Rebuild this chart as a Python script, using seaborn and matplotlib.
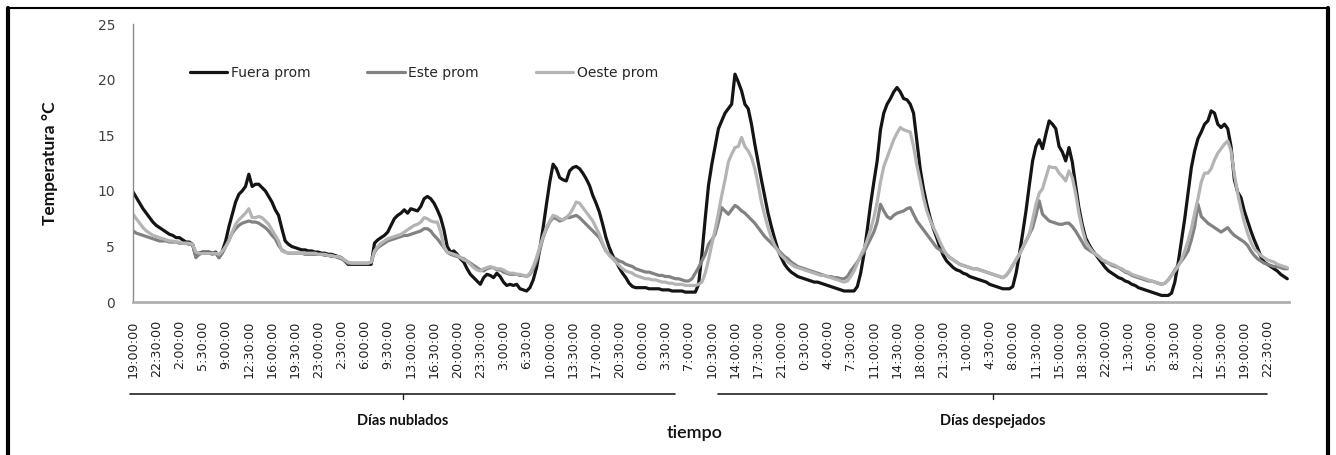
import matplotlib
matplotlib.use("Agg")
import matplotlib.pyplot as plt
import pandas as pd
import seaborn as sns
from matplotlib.lines import Line2D

# Half-hourly averaged temperatures (°C), starting 19:00
fuera = [
    9.9, 9.4, 8.9, 8.4, 8.0, 7.6, 7.2, 6.9, 6.7, 6.5,
    6.3, 6.1, 6.0, 5.8, 5.8, 5.6, 5.4, 5.4, 5.2, 4.1,
    4.4, 4.5, 4.5, 4.5, 4.4, 4.5, 4.0, 4.6, 5.5, 6.8,
    7.9, 9.0, 9.7, 10.0, 10.4, 11.5, 10.4, 10.6, 10.6, 10.3,
    10.0, 9.5, 9.0, 8.3, 7.8, 6.6, 5.5, 5.2, 5.0, 4.9,
    4.8, 4.7, 4.7, 4.6, 4.6, 4.5, 4.5, 4.4, 4.4, 4.3,
    4.3, 4.2, 4.1, 4.0, 3.7, 3.4, 3.4, 3.4, 3.4, 3.4,
    3.4, 3.4, 3.4, 5.3, 5.6, 5.8, 6.0, 6.3, 6.9, 7.5,
    7.8, 8.0, 8.3, 8.0, 8.4, 8.3, 8.2, 8.6, 9.3, 9.5,
    9.3, 8.9, 8.3, 7.6, 6.5, 5.0, 4.5, 4.6, 4.3, 3.9,
    3.6, 3.0, 2.5, 2.2, 1.9, 1.6, 2.2, 2.5, 2.4, 2.2,
    2.6, 2.3, 1.8, 1.5, 1.6, 1.5, 1.6, 1.2, 1.1, 1.0,
    1.3, 2.0, 3.1, 4.8, 6.7, 8.8, 10.8, 12.4, 12.0, 11.2,
    11.0, 10.9, 11.8, 12.1, 12.2, 12.0, 11.6, 11.1, 10.5, 9.6,
    8.9, 8.1, 7.0, 5.8, 4.9, 4.2, 3.7, 3.1, 2.6, 2.2,
    1.7, 1.4, 1.3, 1.3, 1.3, 1.3, 1.2, 1.2, 1.2, 1.2,
    1.1, 1.1, 1.1, 1.0, 1.0, 1.0, 1.0, 0.9, 0.9, 0.9,
    0.9, 1.6, 4.3, 7.5, 10.5, 12.4, 14.0, 15.6, 16.3, 17.0,
    17.4, 17.8, 20.5, 19.8, 19.0, 17.8, 17.4, 16.0, 14.2, 12.6,
    11.0, 9.5, 8.0, 6.8, 5.7, 4.7, 4.0, 3.4, 3.0, 2.7,
    2.5, 2.3, 2.2, 2.1, 2.0, 1.9, 1.8, 1.8, 1.7, 1.6,
    1.5, 1.4, 1.3, 1.2, 1.1, 1.0, 1.0, 1.0, 1.0, 1.4,
    2.6, 4.3, 6.5, 8.8, 10.8, 12.7, 15.5, 17.0, 17.8, 18.3,
    18.9, 19.3, 18.9, 18.3, 18.2, 17.8, 17.0, 14.5, 12.0, 10.2,
    8.8, 7.6, 6.6, 5.8, 4.9, 4.2, 3.7, 3.4, 3.1, 2.9,
    2.8, 2.6, 2.5, 2.3, 2.2, 2.1, 2.0, 1.9, 1.8, 1.6,
    1.5, 1.4, 1.3, 1.2, 1.2, 1.2, 1.4, 2.6, 4.3, 6.2,
    8.2, 10.5, 12.7, 14.0, 14.6, 13.8, 15.1, 16.3, 16.0, 15.6,
    14.0, 13.5, 12.7, 13.9, 12.6, 10.5, 8.5, 7.0, 5.8, 5.2,
    4.7, 4.3, 3.9, 3.5, 3.1, 2.8, 2.6, 2.4, 2.2, 2.1,
    1.9, 1.8, 1.6, 1.5, 1.3, 1.2, 1.1, 1.0, 0.9, 0.8,
    0.7, 0.6, 0.6, 0.6, 0.8, 1.8, 3.5, 5.5, 7.5, 9.8,
    12.1, 13.6, 14.7, 15.3, 16.0, 16.3, 17.2, 17.0, 16.0, 15.7,
    16.0, 15.6, 14.0, 11.0, 9.9, 9.4, 8.2, 7.3, 6.4, 5.6,
    4.9, 4.1, 3.6, 3.4, 3.2, 3.0, 2.8, 2.5, 2.3, 2.1,
]

este = [
    6.4, 6.2, 6.1, 6.0, 5.9, 5.8, 5.7, 5.6, 5.5, 5.5,
    5.5, 5.4, 5.4, 5.4, 5.3, 5.3, 5.3, 5.2, 5.2, 4.0,
    4.3, 4.4, 4.4, 4.4, 4.3, 4.4, 4.0, 4.4, 5.0, 5.6,
    6.2, 6.6, 6.9, 7.1, 7.2, 7.3, 7.2, 7.2, 7.1, 6.9,
    6.7, 6.4, 6.0, 5.7, 5.1, 4.7, 4.5, 4.4, 4.4, 4.4,
    4.4, 4.4, 4.3, 4.3, 4.3, 4.3, 4.3, 4.3, 4.2, 4.2,
    4.1, 4.1, 4.0, 3.9, 3.7, 3.5, 3.5, 3.5, 3.5, 3.5,
    3.5, 3.5, 3.6, 4.5, 4.9, 5.1, 5.3, 5.5, 5.6, 5.7,
    5.8, 5.9, 6.0, 6.0, 6.1, 6.2, 6.3, 6.4, 6.6, 6.6,
    6.4, 6.0, 5.7, 5.3, 4.9, 4.5, 4.3, 4.2, 4.1, 4.0,
    3.9, 3.7, 3.5, 3.3, 3.1, 2.9, 2.8, 3.0, 3.1, 3.1,
    2.9, 2.9, 2.7, 2.6, 2.5, 2.5, 2.5, 2.4, 2.4, 2.3,
    2.5, 3.0, 3.7, 4.7, 5.8, 6.6, 7.2, 7.6, 7.5, 7.3,
    7.4, 7.6, 7.6, 7.7, 7.8, 7.6, 7.3, 7.0, 6.7, 6.4,
    6.1, 5.8, 5.2, 4.6, 4.3, 4.0, 3.9, 3.7, 3.6, 3.4,
    3.3, 3.2, 3.0, 2.9, 2.8, 2.7, 2.7, 2.6, 2.5, 2.4,
    2.4, 2.3, 2.3, 2.2, 2.1, 2.1, 2.0, 1.9, 1.9, 2.1,
    2.6, 3.1, 3.7, 4.3, 5.2, 5.6, 6.1, 7.2, 8.5, 8.2,
    7.9, 8.3, 8.7, 8.5, 8.2, 8.0, 7.7, 7.4, 7.1, 6.7,
    6.3, 5.9, 5.6, 5.3, 5.0, 4.7, 4.4, 4.1, 3.9, 3.6,
    3.4, 3.2, 3.1, 3.0, 2.9, 2.8, 2.7, 2.6, 2.5, 2.4,
    2.3, 2.3, 2.2, 2.2, 2.1, 2.1, 2.3, 2.8, 3.2, 3.6,
    4.1, 4.5, 5.1, 5.7, 6.3, 7.2, 8.8, 8.2, 7.7, 7.5,
    7.8, 8.0, 8.1, 8.2, 8.4, 8.5, 7.9, 7.3, 6.9, 6.5,
    6.1, 5.7, 5.3, 4.9, 4.7, 4.5, 4.3, 4.0, 3.8, 3.6,
    3.4, 3.3, 3.2, 3.1, 3.0, 3.0, 2.9, 2.8, 2.7, 2.6,
    2.5, 2.4, 2.3, 2.2, 2.4, 2.8, 3.3, 3.8, 4.3, 4.9,
    5.5, 6.1, 6.7, 7.8, 9.1, 7.9, 7.6, 7.3, 7.2, 7.1,
    7.0, 7.0, 7.1, 7.1, 6.8, 6.4, 5.9, 5.4, 4.9, 4.7,
    4.5, 4.3, 4.1, 3.8, 3.6, 3.5, 3.3, 3.2, 3.1, 2.9,
    2.7, 2.6, 2.4, 2.3, 2.2, 2.1, 2.0, 1.9, 1.9, 1.8,
    1.7, 1.6, 1.7, 2.0, 2.4, 2.9, 3.3, 3.7, 4.1, 4.6,
    5.6, 6.8, 8.8, 7.7, 7.4, 7.1, 6.9, 6.7, 6.5, 6.3,
    6.5, 6.7, 6.3, 6.0, 5.8, 5.6, 5.4, 5.1, 4.6, 4.2,
    3.9, 3.7, 3.5, 3.4, 3.3, 3.2, 3.2, 3.1, 3.0, 3.0,
]

oeste = [
    7.9, 7.5, 7.1, 6.7, 6.4, 6.2, 6.0, 5.9, 5.8, 5.7,
    5.6, 5.5, 5.5, 5.4, 5.4, 5.3, 5.3, 5.3, 5.2, 4.5,
    4.4, 4.4, 4.4, 4.4, 4.4, 4.4, 4.3, 4.6, 5.0, 5.5,
    6.3, 7.0, 7.4, 7.7, 8.0, 8.4, 7.6, 7.6, 7.7, 7.6,
    7.3, 7.0, 6.5, 6.0, 5.5, 4.6, 4.5, 4.4, 4.4, 4.4,
    4.4, 4.4, 4.4, 4.4, 4.4, 4.4, 4.3, 4.3, 4.3, 4.2,
    4.2, 4.1, 4.1, 4.0, 3.8, 3.6, 3.5, 3.5, 3.5, 3.5,
    3.5, 3.5, 3.6, 4.6, 5.0, 5.3, 5.5, 5.7, 5.8, 5.9,
    6.0, 6.1, 6.3, 6.5, 6.7, 6.9, 7.0, 7.2, 7.6, 7.5,
    7.3, 7.2, 7.2, 6.3, 5.0, 4.5, 4.4, 4.3, 4.2, 4.0,
    3.8, 3.7, 3.4, 3.1, 2.9, 2.8, 3.0, 3.1, 3.2, 3.1,
    3.0, 3.0, 2.9, 2.7, 2.6, 2.6, 2.5, 2.5, 2.4, 2.3,
    2.6, 3.2, 4.0, 5.0, 5.9, 6.7, 7.3, 7.8, 7.7, 7.5,
    7.4, 7.6, 7.9, 8.4, 9.0, 8.9, 8.5, 8.1, 7.7, 7.3,
    6.7, 6.1, 5.3, 4.6, 4.2, 3.9, 3.6, 3.3, 3.0, 2.8,
    2.7, 2.6, 2.4, 2.3, 2.2, 2.1, 2.1, 2.0, 2.0, 1.9,
    1.8, 1.8, 1.7, 1.7, 1.6, 1.6, 1.6, 1.5, 1.5, 1.5,
    1.5, 1.6, 1.8, 2.6, 3.8, 5.2, 6.5, 8.0, 9.6, 11.0,
    12.6, 13.3, 13.9, 14.0, 14.8, 14.0, 13.6, 13.0, 12.0, 10.6,
    9.0, 7.8, 6.7, 5.8, 5.1, 4.6, 4.2, 3.9, 3.6, 3.4,
    3.2, 3.1, 3.0, 2.9, 2.8, 2.7, 2.6, 2.5, 2.4, 2.4,
    2.3, 2.2, 2.1, 2.0, 1.9, 1.8, 1.9, 2.3, 2.8, 3.5,
    4.2, 4.8, 5.6, 6.5, 7.6, 9.0, 10.8, 12.2, 13.0, 13.8,
    14.6, 15.2, 15.7, 15.5, 15.4, 15.3, 14.0, 12.3, 10.9, 9.4,
    8.2, 7.4, 6.7, 6.1, 5.4, 4.8, 4.3, 4.0, 3.8, 3.6,
    3.4, 3.3, 3.2, 3.1, 3.0, 3.0, 2.9, 2.8, 2.7, 2.6,
    2.5, 2.4, 2.3, 2.2, 2.4, 2.8, 3.3, 3.8, 4.3, 4.9,
    5.5, 6.1, 7.4, 8.8, 9.8, 10.2, 11.2, 12.2, 12.1, 12.1,
    11.6, 11.3, 10.9, 11.8, 11.2, 9.8, 8.0, 6.6, 5.5, 5.0,
    4.6, 4.3, 4.1, 3.8, 3.7, 3.5, 3.4, 3.3, 3.1, 3.0,
    2.8, 2.7, 2.5, 2.4, 2.3, 2.2, 2.1, 2.0, 1.9, 1.8,
    1.7, 1.6, 1.7, 2.0, 2.4, 2.8, 3.2, 3.8, 4.6, 5.5,
    6.6, 8.0, 9.3, 10.8, 11.6, 11.6, 12.0, 12.8, 13.4, 13.8,
    14.2, 14.5, 13.6, 11.5, 9.8, 8.4, 7.2, 6.2, 5.4, 4.8,
    4.5, 4.2, 4.0, 3.8, 3.7, 3.6, 3.4, 3.3, 3.2, 3.1,
]

# One label every 7 half-hour steps (3.5 h)
tick_labels = [
    "19:00:00", "22:30:00", "2:00:00", "5:30:00", "9:00:00", "12:30:00",
    "16:00:00", "19:30:00", "23:00:00", "2:30:00", "6:00:00", "9:30:00",
    "13:00:00", "16:30:00", "20:00:00", "23:30:00", "3:00:00", "6:30:00",
    "10:00:00", "13:30:00", "17:00:00", "20:30:00", "0:00:00", "3:30:00",
    "7:00:00", "10:30:00", "14:00:00", "17:30:00", "21:00:00", "0:30:00",
    "4:00:00", "7:30:00", "11:00:00", "14:30:00", "18:00:00", "21:30:00",
    "1:00:00", "4:30:00", "8:00:00", "11:30:00", "15:00:00", "18:30:00",
    "22:00:00", "1:30:00", "5:00:00", "8:30:00", "12:00:00", "15:30:00",
    "19:00:00", "22:30:00",
]
tick_step = 7

series_names = ["Fuera prom", "Este prom", "Oeste prom"]
series_colors = ["#141414", "#828282", "#b4b4b4"]

# Day groups along the time axis: (label, first step, last step)
groups = [("Días nublados", -1, 164), ("Días despejados", 177, 343)]

n = len(fuera)
df = pd.concat([
    pd.DataFrame({"paso": range(n), "temp": vals, "serie": name})
    for name, vals in zip(series_names, [fuera, este, oeste])
], ignore_index=True)

sns.set_style("white")
plt.rcParams["font.family"] = ["DejaVu Sans"]

fig = plt.figure(figsize=(13.36, 4.55), dpi=100)
ax = fig.add_axes([0.0996, 0.336, 0.8654, 0.611])

sns.lineplot(data=df, x="paso", y="temp", hue="serie", hue_order=series_names,
             palette=series_colors, linewidth=2.3, ax=ax, legend=False)

ax.set_xlim(0, n - 0.4)
ax.set_ylim(0, 25)
ax.set_yticks(range(0, 26, 5))
ax.set_xticks(range(0, tick_step * len(tick_labels), tick_step))
ax.set_xticklabels(tick_labels, rotation=90, fontsize=9.2, color="#222222")
ax.tick_params(axis="x", length=0, pad=13)
ax.tick_params(axis="y", length=5, width=1, color="#8c8c8c", direction="out",
               labelsize=10, labelcolor="#404040", pad=8)
for side in ["top", "right"]:
    ax.spines[side].set_visible(False)
ax.spines["left"].set_color("#8c8c8c")
ax.spines["left"].set_linewidth(1.0)
ax.spines["bottom"].set_color("#b0b0b0")
ax.spines["bottom"].set_linewidth(2.0)

ax.set_xlabel("")
ax.set_ylabel("Temperatura °C", fontsize=12.5, fontweight="bold",
              family=["Lato", "DejaVu Sans"], color="#111111")
ax.yaxis.set_label_coords(-0.065, 0.5)

handles = [Line2D([], [], color=c, linewidth=2.3) for c in series_colors]
ax.legend(handles, series_names, ncol=3, frameon=False, loc="center left",
          bbox_to_anchor=(0.049, 0.824), borderaxespad=0, borderpad=0,
          handlelength=2.7, handletextpad=0.25, columnspacing=4.1,
          prop={"size": 10})

# Group brackets below the time labels
trans = ax.get_xaxis_transform()
y_line = (302 - 394) / 278.0
y_tick = (302 - 399) / 278.0
for label, start, end in groups:
    ax.plot([start, end], [y_line, y_line], transform=trans, color="#222222",
            linewidth=1.2, clip_on=False)
    mid = (start + end) / 2
    ax.plot([mid, mid], [y_line, y_tick], transform=trans, color="#222222",
            linewidth=1.0, clip_on=False)
    ax.text(mid, (302 - 421) / 278.0, label, transform=trans, ha="center",
            va="center", fontsize=10.5, fontweight="bold",
            family=["Lato", "DejaVu Sans"], color="#111111")

fig.text(695 / 1336, 1 - 433 / 455, "tiempo", ha="center", va="center",
         fontsize=13, fontweight="semibold", family=["Lato", "DejaVu Sans"],
         color="#111111")

# Page frame
frame_kw = dict(transform=fig.transFigure, color="black", clip_on=False)
fig.add_artist(Line2D([8 / 1336, 1328 / 1336], [1 - 8 / 455, 1 - 8 / 455], linewidth=1.5, **frame_kw))
fig.add_artist(Line2D([8 / 1336, 8 / 1336], [0, 1 - 8 / 455], linewidth=3, **frame_kw))
fig.add_artist(Line2D([1328 / 1336, 1328 / 1336], [0, 1 - 8 / 455], linewidth=3, **frame_kw))

fig.savefig("out.png", dpi=100, facecolor="white")
